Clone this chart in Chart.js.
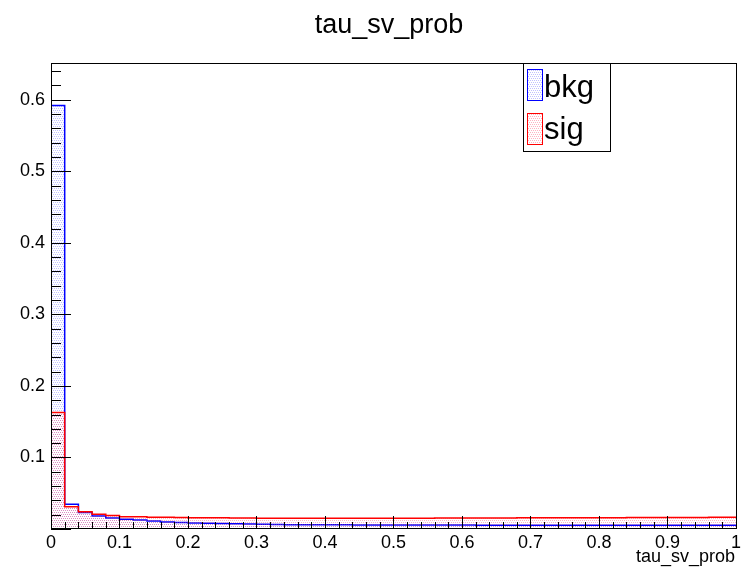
<!DOCTYPE html>
<html><head><meta charset="utf-8">
<script src="https://cdn.jsdelivr.net/npm/chart.js@4/dist/chart.umd.min.js"></script>
<style>html,body{margin:0;padding:0;background:#fff}#wrap{width:744px;height:574px}</style>
</head><body><div id="wrap"><canvas id="c" width="744" height="574"></canvas></div>
<script>
const TITLE = 'tau_sv_prob';
const X_TITLE = 'tau_sv_prob';
const SERIES_NAMES = ['bkg', 'sig'];
const BIN_LOW_EDGES = [0,0.02,0.04,0.06,0.08,0.1,0.12,0.14,0.16,0.18,0.2,0.22,0.24,0.26,0.28,0.3,0.32,0.34,0.36,0.38,0.4,0.42,0.44,0.46,0.48,0.5,0.52,0.54,0.56,0.58,0.6,0.62,0.64,0.66,0.68,0.7,0.72,0.74,0.76,0.78,0.8,0.82,0.84,0.86,0.88,0.9,0.92,0.94,0.96,0.98];
const X_UPPER_EDGE = 1;
const X_TICK_VALUES = [0,0.1,0.2,0.3,0.4,0.5,0.6,0.7,0.8,0.9,1];
const X_TICK_LABELS = ['0','0.1','0.2','0.3','0.4','0.5','0.6','0.7','0.8','0.9','1'];
const Y_TICK_VALUES = [0.1,0.2,0.3,0.4,0.5,0.6];
const Y_TICK_LABELS = ['0.1','0.2','0.3','0.4','0.5','0.6'];
const BKG = [0.592,0.0345,0.023,0.018,0.0155,0.0135,0.0125,0.0112,0.0098,0.0090,0.0084,0.0080,0.0076,0.0074,0.0070,0.0066,0.0063,0.0061,0.0060,0.0059,0.0058,0.0058,0.0057,0.0057,0.0056,0.0056,0.0056,0.0055,0.0055,0.0055,0.0055,0.0054,0.0054,0.0054,0.0054,0.0053,0.0053,0.0053,0.0053,0.0053,0.0052,0.0052,0.0052,0.0052,0.0052,0.0052,0.0051,0.0052,0.0051,0.0052];
const SIG = [0.163,0.031,0.024,0.0205,0.019,0.0172,0.017,0.0165,0.0163,0.0160,0.0158,0.0157,0.0156,0.0155,0.0154,0.0152,0.0150,0.0150,0.0150,0.0149,0.0149,0.0150,0.0150,0.0151,0.0152,0.0151,0.0150,0.0152,0.0153,0.0153,0.0154,0.0154,0.0155,0.0155,0.0156,0.0156,0.0157,0.0157,0.0158,0.0158,0.0159,0.0159,0.0160,0.0160,0.0161,0.0161,0.0162,0.0162,0.0163,0.0163];

const FONT = '"Liberation Sans", Arial, Helvetica, sans-serif';

function makePattern(color) {
  const t = document.createElement('canvas');
  t.width = 4; t.height = 4;
  const g = t.getContext('2d');
  g.fillStyle = color;
  g.fillRect(0, 0, 1, 1);
  g.fillRect(2, 0, 1, 1);
  g.fillRect(1, 2, 1, 1);
  g.fillRect(3, 2, 1, 1);
  return g.createPattern(t, 'repeat');
}
const ctx = document.getElementById('c').getContext('2d');
const bluePat = makePattern('rgba(90,90,255,0.38)');
const redPat = makePattern('rgba(255,70,110,0.42)');

function histPoints(vals) {
  const pts = BIN_LOW_EDGES.map((x, i) => ({x: x, y: vals[i]}));
  pts.push({x: X_UPPER_EDGE, y: vals[vals.length - 1]});
  return pts;
}

const decor = {
  id: 'decor',
  beforeDraw(chart) {
    const c = chart.ctx;
    c.save(); c.fillStyle = '#fff'; c.fillRect(0, 0, chart.width, chart.height); c.restore();
  },
  afterDatasetsDraw(chart) {
    const c = chart.ctx, a = chart.chartArea;
    const xs = chart.scales.x, ys = chart.scales.y;
    c.save();
    c.strokeStyle = '#000'; c.lineWidth = 1;
    c.beginPath();
    for (let k = 0; k <= 32; k++) {
      const py = Math.round(ys.getPixelForValue(k * 0.02)) + 0.5;
      const len = (k % 5 === 0) ? 20 : 10;
      c.moveTo(a.left, py); c.lineTo(a.left + len, py);
    }
    for (let k = 0; k <= 50; k++) {
      const px = Math.round(xs.getPixelForValue(k * 0.02)) + 0.5;
      const len = (k % 5 === 0) ? 13 : 7;
      c.moveTo(px, a.bottom); c.lineTo(px, a.bottom - len);
    }
    c.stroke();
    c.strokeRect(Math.round(a.left) + 0.5, Math.round(a.top) - 0.5, Math.round(a.right - a.left), Math.round(a.bottom - a.top));
    c.fillStyle = '#000';
    c.font = '27px ' + FONT;
    c.textAlign = 'center'; c.textBaseline = 'alphabetic';
    c.fillText(TITLE, 389, 33);
    c.font = '18px ' + FONT;
    c.textAlign = 'right';
    c.fillText(X_TITLE, a.right - 1, 562);
    const lx = 523.5, ly = a.top - 0.5, lw = 87, lh = 88;
    c.fillStyle = '#fff';
    c.fillRect(lx, ly, lw, lh);
    c.strokeStyle = '#000';
    c.strokeRect(lx, ly, lw, lh);
    const entries = [[SERIES_NAMES[0], bluePat, '#0000ff', 69.5, 97], [SERIES_NAMES[1], redPat, '#ff0000', 113.5, 138.5]];
    entries.forEach(([name, pat, col, by, base]) => {
      c.fillStyle = pat;
      c.fillRect(527, by, 15, 31);
      c.strokeStyle = col;
      c.strokeRect(527.5, by, 15, 31);
      c.fillStyle = '#000';
      c.font = '31px ' + FONT;
      c.textAlign = 'left';
      c.fillText(name, 544, base);
    });
    c.restore();
  }
};

new Chart(ctx, {
  type: 'line',
  data: {
    datasets: [
      {label: SERIES_NAMES[1], data: histPoints(SIG), stepped: true, borderColor: '#ff0000', borderWidth: 1.5, backgroundColor: redPat, fill: 'origin', pointRadius: 0, order: 0},
      {label: SERIES_NAMES[0], data: histPoints(BKG), stepped: true, borderColor: '#0000ff', borderWidth: 1.5, backgroundColor: bluePat, fill: 'origin', pointRadius: 0, order: 1}
    ]
  },
  options: {
    responsive: false,
    animation: false,
    devicePixelRatio: 1,
    layout: {padding: {top: 64, right: 5, bottom: 0, left: 0}},
    plugins: {legend: {display: false}, tooltip: {enabled: false}, title: {display: false}},
    scales: {
      x: {
        type: 'linear', min: 0, max: 1,
        afterBuildTicks: s => { s.ticks = X_TICK_VALUES.map(v => ({value: v})); },
        afterFit: s => { s.height = 45; },
        ticks: {callback: (v, i) => X_TICK_LABELS[i], font: {family: FONT, size: 18}, color: '#000', padding: 3, maxRotation: 0, autoSkip: false},
        grid: {display: false, drawTicks: false},
        border: {display: false}
      },
      y: {
        type: 'linear', min: 0, max: 0.65,
        afterBuildTicks: s => { s.ticks = Y_TICK_VALUES.map(v => ({value: v})); },
        afterFit: s => { s.width = 51; },
        ticks: {callback: (v, i) => Y_TICK_LABELS[i], font: {family: FONT, size: 18}, color: '#000', padding: 6, autoSkip: false},
        grid: {display: false, drawTicks: false},
        border: {display: false}
      }
    }
  },
  plugins: [decor]
});
</script></body></html>
